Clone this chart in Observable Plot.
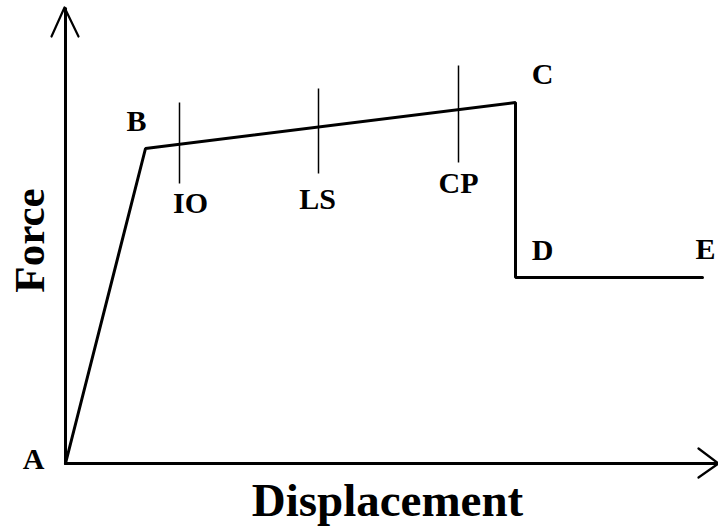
<!DOCTYPE html>
<html><head><meta charset="utf-8">
<script src="https://cdn.jsdelivr.net/npm/d3@7"></script>
<script src="https://cdn.jsdelivr.net/npm/@observablehq/plot@0.6"></script>
<style>body{margin:0;background:#fff}</style>
</head><body><div id="chart"></div>
<script>
// Backbone curve points (displacement, force) in arbitrary units
const pointNames = ["A","B","C","D","E"];
const dispValues = [0, 80, 450, 450, 637];
const forceValues = [0, 315, 361, 186, 186];
// Performance levels (acceptance criteria markers)
const levelNames = ["IO","LS","CP"];
const levelDisp = [114, 253, 393];
const levelLow = [280, 290, 301];
const levelHigh = [361, 375, 398];

const curve = pointNames.map((n,i)=>({name:n, x:dispValues[i], y:forceValues[i]}));
const levels = levelNames.map((n,i)=>({name:n, x:levelDisp[i], y1:levelLow[i], y2:levelHigh[i]}));

// label placement (pixel offsets from anchor, baseline)
const pointLabelPos = {A:[-32,5], B:[-9,-18], C:[27,-19], D:[27,-18], E:[3,-19]};
const levelLabelPos = {IO:[11,29], LS:[-1,35], CP:[0,30]};

const font = "'Liberation Serif','Times New Roman',serif";
const black = "#000";
const marks = [
  // axes with arrowheads
  Plot.line([{x:0,y:0},{x:652,y:0}], {x:"x", y:"y", stroke:black, strokeWidth:3}),
  Plot.line([{x:0,y:0},{x:0,y:455}], {x:"x", y:"y", stroke:black, strokeWidth:3}),
  Plot.line([{x:-14,y:427},{x:-1,y:456},{x:13,y:427}], {x:"x", y:"y", stroke:black, strokeWidth:2.2}),
  Plot.line([{x:633,y:15},{x:653,y:0},{x:633,y:-14}], {x:"x", y:"y", stroke:black, strokeWidth:2.2}),
  // backbone curve
  Plot.line(curve, {x:"x", y:"y", stroke:black, strokeWidth:3, strokeLinejoin:"miter"}),
  // performance level ticks
  Plot.link(levels, {x1:"x", x2:"x", y1:"y1", y2:"y2", stroke:black, strokeWidth:1.5}),
];
curve.forEach(d => {
  const [dx, dy] = pointLabelPos[d.name];
  marks.push(Plot.text([d], {x:"x", y:"y", text:"name", dx, dy, lineAnchor:"bottom",
    fontSize:30, fontWeight:"bold", fill:black}));
});
levels.forEach(d => {
  const [dx, dy] = levelLabelPos[d.name];
  marks.push(Plot.text([d], {x:"x", y:"y1", text:"name", dx, dy, lineAnchor:"bottom",
    fontSize:30, fontWeight:"bold", fill:black}));
});
marks.push(Plot.text(["Displacement"], {x:322, y:-52, text:d=>d, lineAnchor:"bottom",
  fontSize:47, fontWeight:"bold", fill:black}));
marks.push(Plot.text(["Force"], {x:-22, y:223, text:d=>d, lineAnchor:"bottom", rotate:-90,
  fontSize:43, fontWeight:"bold", fill:black}));

const plot = Plot.plot({
  width: 718, height: 528,
  margin: 0,
  x: {domain: [-65, 653], axis: null},
  y: {domain: [-65, 463], axis: null},
  style: {fontFamily: font, background: "#fff", overflow: "visible"},
  marks
});
document.getElementById("chart").append(plot);
</script>
</body></html>
